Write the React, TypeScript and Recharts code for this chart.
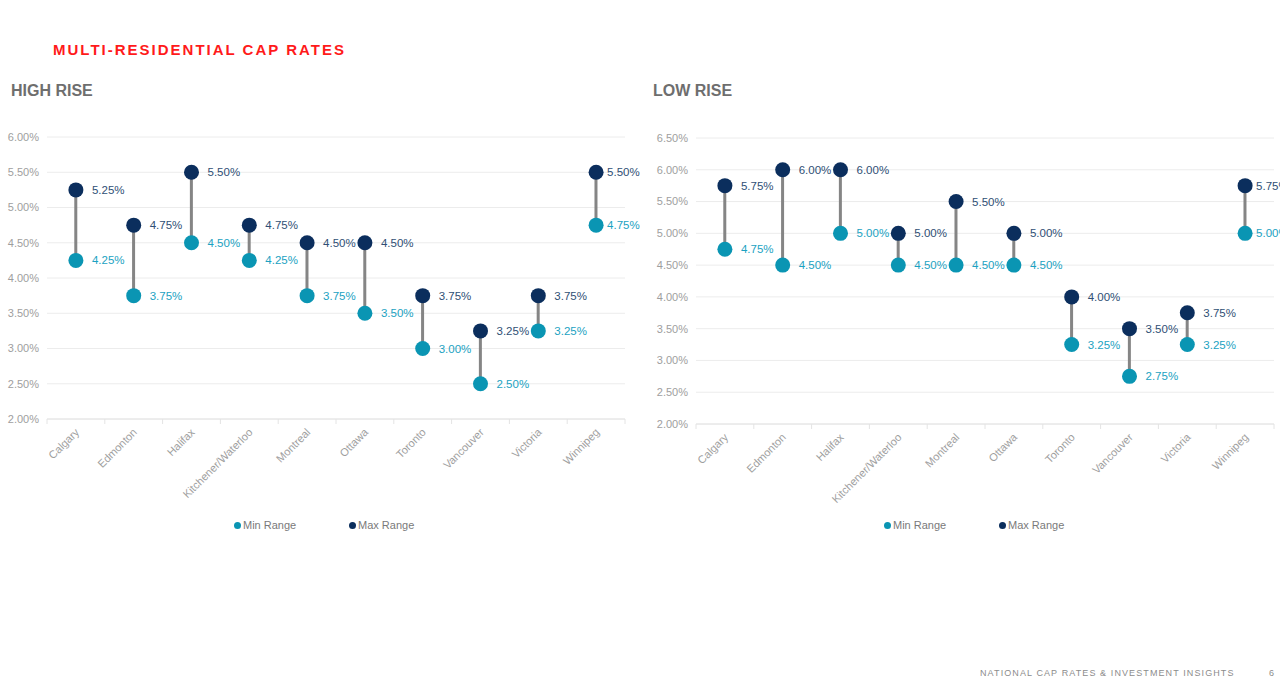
import React from 'react';
import { ComposedChart, Bar, Line, XAxis, YAxis, CartesianGrid, LabelList } from 'recharts';

// Cities shown on both charts
const cities = ['Calgary', 'Edmonton', 'Halifax', 'Kitchener/Waterloo', 'Montreal', 'Ottawa', 'Toronto', 'Vancouver', 'Victoria', 'Winnipeg'];

// High rise cap rate range (%)
const highMin = [4.25, 3.75, 4.5, 4.25, 3.75, 3.5, 3.0, 2.5, 3.25, 4.75];
const highMax = [5.25, 4.75, 5.5, 4.75, 4.5, 4.5, 3.75, 3.25, 3.75, 5.5];

// Low rise cap rate range (%)
const lowMin = [4.75, 4.5, 5.0, 4.5, 4.5, 4.5, 3.25, 2.75, 3.25, 5.0];
const lowMax = [5.75, 6.0, 6.0, 5.0, 5.5, 5.0, 4.0, 3.5, 3.75, 5.75];

// Y axis ticks
const highTicks = [2.0, 2.5, 3.0, 3.5, 4.0, 4.5, 5.0, 5.5, 6.0];
const lowTicks = [2.0, 2.5, 3.0, 3.5, 4.0, 4.5, 5.0, 5.5, 6.0, 6.5];

const FONT = '"Liberation Sans", Arial, Helvetica, sans-serif';
const MIN_COLOR = '#0a95b3';
const MAX_COLOR = '#0b2e5d';
const MIN_LABEL = '#1ba2c2';
const MAX_LABEL = '#2f4f75';
const AXIS_TEXT = '#9e9e9e';

const buildRows = (mins: number[], maxs: number[]) =>
  cities.map((city, i) => ({ city, min: mins[i], max: maxs[i], range: [mins[i], maxs[i]] }));

const pct = (v: any) => `${Number(v).toFixed(2)}%`;

// Thin gray connector between min and max
const Connector = (props: any) => {
  const { x, y, width, height } = props;
  if (x == null || y == null) return null;
  return <rect x={x + width / 2 - 1.5} y={y} width={3} height={Math.abs(height)} fill="#858585" />;
};

// Value label to the right of each dot; the last column sits tighter to the dot
const makeValueLabel = (color: string) => (props: any) => {
  const { x, y, value, index } = props;
  if (x == null || y == null) return null;
  const gap = index === cities.length - 1 ? 11 : 16;
  return (
    <text x={x + gap} y={y} dominantBaseline="central" fill={color} fontSize={11.5} fontFamily={FONT}>
      {pct(value)}
    </text>
  );
};
const MinLabel = makeValueLabel(MIN_LABEL);
const MaxLabel = makeValueLabel(MAX_LABEL);

const CityTick = (props: any) => {
  const { x, y, payload } = props;
  const half = payload && payload.offset ? payload.offset : 29;
  return (
    <g>
      <line x1={x - half} x2={x - half} y1={y - 8} y2={y - 3} stroke="#e4e4e4" />
      {payload.index === cities.length - 1 && (
        <line x1={x + half} x2={x + half} y1={y - 8} y2={y - 3} stroke="#e4e4e4" />
      )}
      <g transform={`translate(${x + 4},${y + 6})`}>
        <text x={0} y={0} textAnchor="end" transform="rotate(-45)" fill={AXIS_TEXT} fontSize={11} fontFamily={FONT}>
          {payload.value}
        </text>
      </g>
    </g>
  );
};

const RangeChart = ({ rows, ticks, domain, height }: { rows: any[]; ticks: number[]; domain: [number, number]; height: number }) => (
  <ComposedChart width={680} height={height} data={rows} margin={{ top: 10, right: 55, bottom: 0, left: 0 }}>
    <CartesianGrid vertical={false} stroke="#ececec" />
    <XAxis
      dataKey="city"
      interval={0}
      axisLine={{ stroke: '#e4e4e4' }}
      tickLine={false}
      tick={<CityTick />}
      height={90}
    />
    <YAxis
      type="number"
      domain={domain}
      ticks={ticks}
      tickFormatter={pct}
      axisLine={false}
      tickLine={false}
      width={47}
      tick={{ fill: AXIS_TEXT, fontSize: 11, fontFamily: FONT }}
    />
    <Bar dataKey="range" shape={<Connector />} isAnimationActive={false} />
    <Line
      dataKey="min"
      stroke="none"
      dot={{ r: 7.5, fill: MIN_COLOR, stroke: 'none' }}
      activeDot={false}
      isAnimationActive={false}
    >
      <LabelList dataKey="min" content={MinLabel} />
    </Line>
    <Line
      dataKey="max"
      stroke="none"
      dot={{ r: 7.5, fill: MAX_COLOR, stroke: 'none' }}
      activeDot={false}
      isAnimationActive={false}
    >
      <LabelList dataKey="max" content={MaxLabel} />
    </Line>
  </ComposedChart>
);

const LegendRow = ({ left }: { left: number }) => (
  <div style={{ position: 'absolute', left, top: 519, display: 'flex', fontFamily: FONT, fontSize: 11, color: '#7a7a7a' }}>
    <span style={{ display: 'flex', alignItems: 'center', width: 115 }}>
      <span style={{ width: 7, height: 7, borderRadius: 4, background: MIN_COLOR, marginRight: 2 }} />
      Min Range
    </span>
    <span style={{ display: 'flex', alignItems: 'center' }}>
      <span style={{ width: 7, height: 7, borderRadius: 4, background: MAX_COLOR, marginRight: 2 }} />
      Max Range
    </span>
  </div>
);

export default function App() {
  const highRows = buildRows(highMin, highMax);
  const lowRows = buildRows(lowMin, lowMax);
  return (
    <div style={{ position: 'fixed', left: 0, top: 0, width: 1280, height: 690, overflow: 'hidden', background: '#fff', fontFamily: FONT }}>
      <div style={{ position: 'absolute', left: 53, top: 41, fontSize: 15, fontWeight: 700, color: '#ff1a1a', letterSpacing: 2 }}>
        MULTI-RESIDENTIAL CAP RATES
      </div>
      <div style={{ position: 'absolute', left: 11, top: 82, fontSize: 16, fontWeight: 700, color: '#6e6e6e' }}>HIGH RISE</div>
      <div style={{ position: 'absolute', left: 653, top: 82, fontSize: 16, fontWeight: 700, color: '#6e6e6e' }}>LOW RISE</div>

      <div style={{ position: 'absolute', left: 0, top: 127 }}>
        <RangeChart rows={highRows} ticks={highTicks} domain={[2, 6]} height={382} />
      </div>
      <div style={{ position: 'absolute', left: 649, top: 128 }}>
        <RangeChart rows={lowRows} ticks={lowTicks} domain={[2, 6.5]} height={386} />
      </div>

      <LegendRow left={234} />
      <LegendRow left={884} />

      <div style={{ position: 'absolute', left: 980, top: 668, fontSize: 9, color: '#8c8c8c', letterSpacing: 1.1 }}>
        NATIONAL CAP RATES &amp; INVESTMENT INSIGHTS
      </div>
      <div style={{ position: 'absolute', left: 1269, top: 668, fontSize: 9, color: '#8c8c8c' }}>6</div>
    </div>
  );
}
